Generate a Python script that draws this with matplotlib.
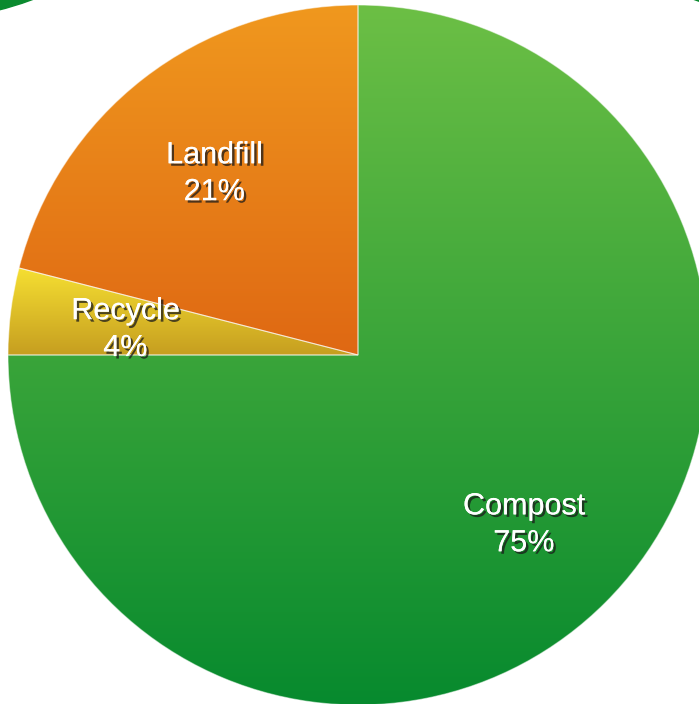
import numpy as np
import matplotlib
matplotlib.use("Agg")
import matplotlib.pyplot as plt
import matplotlib.patheffects as pe
from matplotlib.colors import LinearSegmentedColormap
from matplotlib.patches import Circle

# Données
labels = ["Compost", "Recycle", "Landfill"]
values = [75, 4, 21]
# couleurs de dégradé (haut, bas) pour chaque part
top_colors = ["#6cbf45", "#f6e032", "#f0981e"]
bottom_colors = ["#078a2e", "#c69e20", "#df6813"]

W, H = 699, 704
fig = plt.figure(figsize=(W / 100, H / 100), dpi=100)
ax = fig.add_axes([0, 0, 1, 1])

# cercles verts voisins (coupés par le cadre)
ax.add_patch(Circle((-88, H + 329), 350, color="#0a8a2e", zorder=0))
ax.add_patch(Circle((812, H + 330), 350, color="#0a8a2e", zorder=0))

center = (358, H - 355)
radius = 350

wedges, _ = ax.pie(values, startangle=90, counterclock=False,
                   center=center, radius=radius, labeldistance=None,
                   wedgeprops=dict(linewidth=0.8, edgecolor=(1, 1, 1, 0.5)),
                   frame=True)

grad = np.linspace(0, 1, 256).reshape(-1, 1)
for w, c0, c1 in zip(wedges, top_colors, bottom_colors):
    w.set_facecolor("none")
    bb = w.get_path().get_extents(w.get_transform() - ax.transData)
    cmap = LinearSegmentedColormap.from_list("g", [c1, c0])
    im = ax.imshow(grad, cmap=cmap, origin="lower", aspect="auto",
                   extent=[bb.x0, bb.x1, bb.y0, bb.y1], zorder=1)
    im.set_clip_path(w)
    w.set_zorder(2)

ax.set_xlim(0, W)
ax.set_ylim(0, H)
ax.set_aspect("equal")
ax.axis("off")

# étiquettes
total = sum(values)
angle = 90.0
shadow = [pe.withSimplePatchShadow(offset=(1.8, -1.8), shadow_rgbFace="#1a1a1a", alpha=0.75), pe.Normal()]
for lab, v in zip(labels, values):
    sweep = 360.0 * v / total
    mid = np.deg2rad(angle - sweep / 2)
    angle -= sweep
    x = center[0] + 0.67 * radius * np.cos(mid)
    y = center[1] + 0.67 * radius * np.sin(mid) - 4
    ax.text(x, y, f"{lab}\n{v}%", ha="center", va="center", color="white",
            fontsize=22, family="Liberation Sans", linespacing=1.3,
            path_effects=shadow, zorder=5)

fig.savefig("out.png", dpi=100)
